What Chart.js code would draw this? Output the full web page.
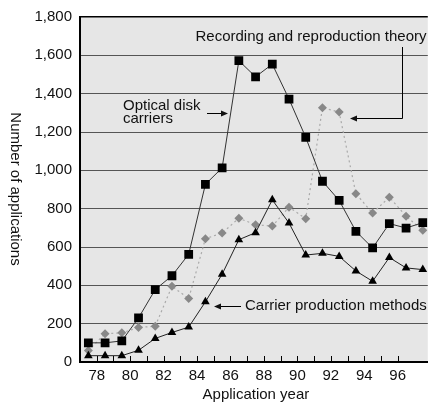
<!DOCTYPE html>
<html>
<head>
<meta charset="utf-8">
<script src="https://cdn.jsdelivr.net/npm/chart.js@4"></script>
<style>
  html, body { margin: 0; padding: 0; background: #fff; }
  #chart { display: block; }
</style>
</head>
<body>
<canvas id="chart" width="434" height="405"></canvas>
<script>
/* ===== Data ===== */
const years = [77.5, 78.5, 79.5, 80.5, 81.5, 82.5, 83.5, 84.5, 85.5, 86.5, 87.5,
               88.5, 89.5, 90.5, 91.5, 92.5, 93.5, 94.5, 95.5, 96.5, 97.5];
const opticalDisk = [100, 100, 110, 230, 378, 450, 562, 927, 1013, 1572, 1488,
                     1554, 1372, 1172, 943, 843, 682, 595, 722, 699, 727];
const recordingTheory = [60, 148, 152, 180, 187, 395, 331, 643, 673, 750, 716,
                         709, 808, 748, 1327, 1304, 878, 777, 860, 761, 687];
const productionMethods = [33, 33, 33, 61, 123, 154, 182, 314, 458, 638, 675,
                           846, 725, 558, 567, 551, 475, 421, 545, 491, 482];
const xLabels = [78, 80, 82, 84, 86, 88, 90, 92, 94, 96];
const yTicks = [0, 200, 400, 600, 800, 1000, 1200, 1400, 1600, 1800];

/* ===== Chart.js Global Config ===== */
Chart.defaults.font.family = "'Liberation Sans', Arial, sans-serif";
Chart.defaults.font.size = 15;
Chart.defaults.color = '#111';

const toPts = vals => vals.map((v, i) => ({ x: years[i], y: v }));

// gray plot background
const plotBg = {
    id: 'plotBg',
    beforeDraw(chart) {
        const { ctx, chartArea: a } = chart;
        ctx.save();
        ctx.fillStyle = '#e6e6e6';
        ctx.fillRect(a.left, a.top, a.right - a.left, a.bottom - a.top);
        ctx.restore();
    }
};

function arrowHead(ctx, x, y, dir) {
    ctx.beginPath();
    ctx.moveTo(x, y);
    ctx.lineTo(x - dir * 7, y - 3);
    ctx.lineTo(x - dir * 7, y + 3);
    ctx.closePath();
    ctx.fill();
}

// inward ticks, axis titles, callouts
const extras = {
    id: 'extras',
    afterDraw(chart) {
        const { ctx, chartArea: a } = chart;
        const xs = chart.scales.x;
        ctx.save();
        ctx.strokeStyle = '#000';
        ctx.fillStyle = '#111';
        ctx.lineWidth = 1;

        // year ticks pointing up into the plot
        xs.ticks.filter(t => Number.isInteger(t.value) && t.value >= 78).forEach(t => {
            const px = Math.round(xs.getPixelForValue(t.value)) + 0.5;
            ctx.beginPath();
            ctx.moveTo(px, a.bottom);
            ctx.lineTo(px, a.bottom - 6);
            ctx.stroke();
        });

        ctx.font = "15px 'Liberation Sans', Arial, sans-serif";
        ctx.textBaseline = 'middle';

        // axis titles
        ctx.textAlign = 'center';
        ctx.fillText('Application year', (a.left + a.right) / 2 + 2, 395);
        ctx.save();
        ctx.translate(15, 189);
        ctx.rotate(Math.PI / 2);
        ctx.fillText('Number of applications', 0, 0);
        ctx.restore();

        // Recording and reproduction theory
        ctx.fillText('Recording and reproduction theory', 311, 37);
        ctx.beginPath();
        ctx.moveTo(402.5, 47);
        ctx.lineTo(402.5, 118.5);
        ctx.lineTo(356, 118.5);
        ctx.stroke();
        arrowHead(ctx, 350, 118.5, -1);

        // Optical disk carriers
        ctx.textAlign = 'left';
        ctx.fillText('Optical disk', 123, 106);
        ctx.fillText('carriers', 123, 119);
        ctx.beginPath();
        ctx.moveTo(207, 113.5);
        ctx.lineTo(222, 113.5);
        ctx.stroke();
        arrowHead(ctx, 228, 113.5, 1);

        // Carrier production methods
        ctx.fillText('Carrier production methods', 245, 306);
        ctx.beginPath();
        ctx.moveTo(241, 306.5);
        ctx.lineTo(220, 306.5);
        ctx.stroke();
        arrowHead(ctx, 214, 306.5, -1);

        ctx.restore();
    }
};

new Chart(document.getElementById('chart'), {
    type: 'line',
    data: {
        datasets: [
            { label: 'Optical disk carriers', data: toPts(opticalDisk),
              borderColor: '#333', borderWidth: 1, backgroundColor: '#000',
              pointStyle: 'rect', pointRadius: 6.2, pointBorderWidth: 0, tension: 0 },
            { label: 'Carrier production methods', data: toPts(productionMethods),
              borderColor: '#222', borderWidth: 1, backgroundColor: '#000',
              pointStyle: 'triangle', pointRadius: 5, pointBorderWidth: 0, tension: 0 },
            { label: 'Recording and reproduction theory', data: toPts(recordingTheory),
              borderColor: '#aaa', borderWidth: 1.2, borderDash: [2, 3], backgroundColor: '#888',
              pointStyle: 'rectRot', pointRadius: 4.5, pointBorderWidth: 0, tension: 0 }
        ]
    },
    options: {
        responsive: false,
        animation: false,
        layout: { padding: { top: 16, right: 0, left: 0, bottom: 0 } },
        plugins: { legend: { display: false }, tooltip: { enabled: false } },
        scales: {
            x: {
                type: 'linear', min: 77, max: 97.8,
                afterFit: s => { s.height = 43; },
                ticks: {
                    stepSize: 1, autoSkip: false, maxRotation: 0, padding: 5,
                    callback: v => (xLabels.includes(v) ? String(v) : '')
                },
                grid: { display: false, drawTicks: false },
                border: { display: true, color: '#000', width: 2 }
            },
            y: {
                min: 0, max: 1800,
                afterFit: s => { s.width = 80; },
                afterBuildTicks: s => { s.ticks = yTicks.map(v => ({ value: v })); },
                ticks: { padding: 8, callback: v => v.toLocaleString('en-US') },
                grid: {
                    drawTicks: false,
                    color: c => (c.tick && c.tick.value === 1800 ? '#000' : '#555'),
                    lineWidth: c => (c.tick && c.tick.value === 1800 ? 1.5 : 1)
                },
                border: { display: true, color: '#000', width: 2 }
            }
        }
    },
    plugins: [plotBg, extras]
});
</script>
</body>
</html>
